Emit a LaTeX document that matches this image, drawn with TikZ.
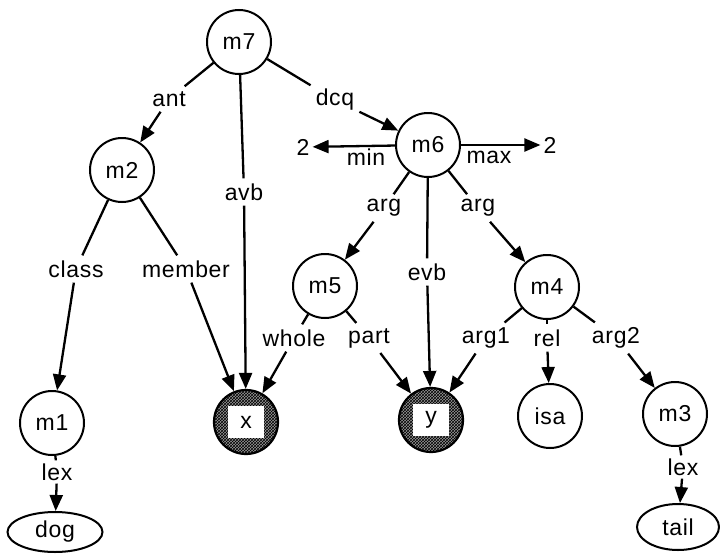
\documentclass[tikz,border=0pt]{standalone}
\usepackage{fontspec}
\setmainfont[LetterSpace=3]{Liberation Sans}
\usetikzlibrary{arrows.meta,shapes.geometric,patterns}
\begin{document}
\begin{tikzpicture}[x=1pt,y=-1pt,
  every node/.style={font=\fontsize{23}{27}\selectfont},
  conn/.style={line width=2.3pt},
  arr/.style={line width=2.3pt,-{Triangle[length=16pt,width=13pt]}},
  circ/.style={circle,draw,line width=2pt,minimum size=64pt,inner sep=0pt},
  shaded/.style={circle,draw,line width=2.2pt,minimum size=64pt,inner sep=0pt,fill=gray!80,postaction={pattern=crosshatch,pattern color=black}},
  inbox/.style={rectangle,fill=white,minimum width=36pt,minimum height=32pt,inner sep=0pt},
  oval/.style={ellipse,draw,line width=2pt,inner sep=0pt},
  lbl/.style={inner sep=5pt},
  num/.style={inner sep=3pt}]
\useasboundingbox (0,0) rectangle (720,554);
% nodes
\node[circ] (m7) at (239,42) {m7};
\node[circ] (m2) at (122,170) {m2};
\node[circ] (m6) at (428,145) {m6};
\node[circ] (m5) at (325,286) {m5};
\node[circ] (m4) at (547,287) {m4};
\node[circ] (m1) at (52,423) {m1};
\node[circ] (isa) at (550,416) {isa};
\node[circ] (m3) at (675,414) {m3};
\node[shaded] (x) at (246,422) {};
\node[inbox] (xin) at (x) {x};
\node[shaded] (y) at (431,420) {};
\node[inbox] (yin) at (y) {y};
\node[oval,minimum width=95pt,minimum height=40pt] (dog) at (55,532) {dog};
\node[oval,minimum width=82pt,minimum height=46pt] (tail) at (678,527) {tail};
\node[num] (twoL) at (303,147) {2};
\node[num] (twoR) at (550,145) {2};
% labels
\node[lbl] (ant) at (169,99) {ant};
\node[lbl] (dcq) at (335,100) {dcq};
\node[lbl] (avb) at (244,192) {avb};
\node[inner sep=0pt] (min) at (366,157) {min};
\node[inner sep=0pt] (max) at (489,157) {max};
\node[lbl] (argL) at (384,208) {arg};
\node[lbl] (argR) at (478,208) {arg};
\node[lbl] (evb) at (427,272) {evb};
\node[lbl] (class) at (76,269) {class};
\node[lbl] (member) at (186,269) {member};
\node[lbl] (whole) at (294,338) {whole};
\node[lbl] (part) at (369,338) {part};
\node[lbl] (arg1) at (486,338) {arg1};
\node[lbl] (rel) at (547,338) {rel};
\node[lbl] (arg2) at (616,338) {arg2};
\node[lbl,inner sep=3pt] (lex1) at (57,472) {lex};
\node[lbl,inner sep=3pt] (lex2) at (683,467) {lex};
% connectors
\draw[conn] (m7) -- (ant); \draw[arr] (ant) -- (m2);
\draw[conn] (m7) -- (avb); \draw[arr] (avb) -- (x);
\draw[conn] (m7) -- (dcq); \draw[arr] (dcq) -- (m6);
\draw[arr] (m6) -- (twoL);
\draw[arr] (m6) -- (twoR);
\draw[conn] (m6) -- (argL); \draw[arr] (argL) -- (m5);
\draw[conn] (m6) -- (evb); \draw[arr] (evb) -- (y);
\draw[conn] (m6) -- (argR); \draw[arr] (argR) -- (m4);
\draw[conn] (m2) -- (class); \draw[arr] (class) -- (m1);
\draw[conn] (m2) -- (member); \draw[arr] (member) -- (x);
\draw[conn] (m5) -- (whole); \draw[arr] (whole) -- (x);
\draw[conn] (m5) -- (part); \draw[arr] (part) -- (y);
\draw[conn] (m4) -- (arg1); \draw[arr] (arg1) -- (y);
\draw[conn] (m4) -- (rel); \draw[arr] (rel) -- (isa);
\draw[conn] (m4) -- (arg2); \draw[arr] (arg2) -- (m3);
\draw[conn] (m1) -- (lex1); \draw[arr] (lex1) -- (dog);
\draw[conn] (m3) -- (lex2); \draw[arr] (lex2) -- (tail);
\end{tikzpicture}
\end{document}
